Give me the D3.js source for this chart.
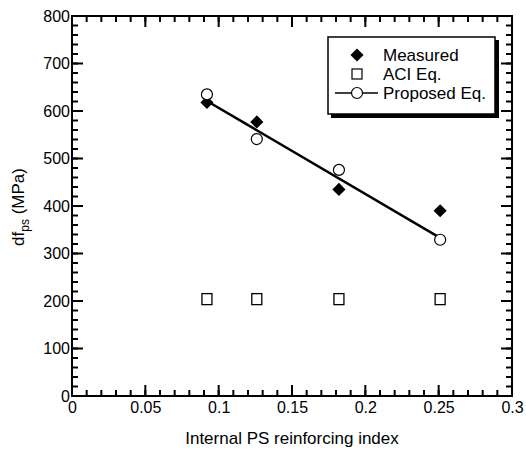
<!DOCTYPE html>
<html>
<head>
<meta charset="utf-8">
<script src="https://cdn.jsdelivr.net/npm/d3@7"></script>
<style>
  html, body { margin: 0; padding: 0; background: #fff; }
  svg { display: block; font-family: "Liberation Sans", Arial, sans-serif; }
</style>
</head>
<body>
<div id="chart"></div>
<script>
// daten
const indexValues = [0.092, 0.126, 0.182, 0.251];
const measured = [618, 577, 435, 390];
const aciEq = [205, 205, 205, 205];
const proposed = [635, 541, 476, 329];
// durchgehende linie (proposed eq.)
const lineX = [0.092, 0.251];
const lineY = [621, 333];

const xTicks = [0, 0.05, 0.1, 0.15, 0.2, 0.25, 0.3];
const yTicks = [0, 100, 200, 300, 400, 500, 600, 700, 800];
const legendItems = ['Measured', 'ACI Eq.', 'Proposed Eq.'];

const W = 526, H = 450;
const plot = { left: 72, right: 512, top: 16, bottom: 396 };

const svg = d3.select('#chart').append('svg')
  .attr('width', W).attr('height', H);

const x = d3.scaleLinear().domain([0, 0.3]).range([plot.left, plot.right]);
const y = d3.scaleLinear().domain([0, 800]).range([plot.bottom, plot.top]);

const minorX = d3.range(0, 31).map(i => i / 100);
const minorY = d3.range(0, 41).map(i => i * 20);

// ---- Tick-Striche nach innen, auf allen vier Seiten ----
const gTicks = svg.append('g').attr('class', 'ticks')
  .attr('stroke', '#000').attr('stroke-width', 2);

function xTickMarks(vals, len) {
  [[plot.bottom, -1], [plot.top, 1]].forEach(([y0, dir]) => {
    gTicks.append('g').selectAll('line').data(vals).join('line')
      .attr('x1', d => x(d)).attr('x2', d => x(d))
      .attr('y1', y0).attr('y2', y0 + dir * len);
  });
}
function yTickMarks(vals, len) {
  [[plot.left, 1], [plot.right, -1]].forEach(([x0, dir]) => {
    gTicks.append('g').selectAll('line').data(vals).join('line')
      .attr('y1', d => y(d)).attr('y2', d => y(d))
      .attr('x1', x0).attr('x2', x0 + dir * len);
  });
}
xTickMarks(minorX, 6);
xTickMarks(xTicks, 11);
yTickMarks(minorY, 6);
yTickMarks(yTicks, 11);

// ---- Beschriftungen ----
svg.append('g')
  .attr('transform', `translate(0,${plot.bottom})`)
  .call(d3.axisBottom(x).tickValues(xTicks).tickSize(0).tickPadding(6).tickFormat(d => d3.format('~g')(d)))
  .call(g => g.select('.domain').remove())
  .call(g => g.selectAll('text').attr('font-size', 16).attr('fill', '#000').attr('font-family', 'Liberation Sans, Arial, sans-serif'));

svg.append('g')
  .attr('transform', `translate(${plot.left},0)`)
  .call(d3.axisLeft(y).tickValues(yTicks).tickSize(0).tickPadding(2))
  .call(g => g.select('.domain').remove())
  .call(g => g.selectAll('text').attr('font-size', 16).attr('fill', '#000').attr('font-family', 'Liberation Sans, Arial, sans-serif'));

// Rahmen
svg.append('rect')
  .attr('x', plot.left).attr('y', plot.top)
  .attr('width', plot.right - plot.left).attr('height', plot.bottom - plot.top)
  .attr('fill', 'none').attr('stroke', '#000').attr('stroke-width', 2);

// ---- Daten ----
const gData = svg.append('g').attr('class', 'data');

gData.append('path')
  .datum(lineX.map((d, i) => [d, lineY[i]]))
  .attr('fill', 'none').attr('stroke', '#000').attr('stroke-width', 2.5)
  .attr('d', d3.line().x(d => x(d[0])).y(d => y(d[1])));

const diamond = d3.symbol().type(d3.symbolDiamond2).size(110);

gData.selectAll('path.measured')
  .data(indexValues.map((d, i) => [d, measured[i]]))
  .join('path')
  .attr('class', 'measured')
  .attr('transform', d => `translate(${x(d[0])},${y(d[1])})`)
  .attr('d', diamond)
  .attr('fill', '#000');

gData.selectAll('rect.aci')
  .data(indexValues.map((d, i) => [d, aciEq[i]]))
  .join('rect')
  .attr('class', 'aci')
  .attr('x', d => x(d[0]) - 5).attr('y', d => y(d[1]) - 5)
  .attr('width', 10).attr('height', 11)
  .attr('fill', '#fff').attr('stroke', '#000').attr('stroke-width', 1.3);

gData.selectAll('circle.proposed')
  .data(indexValues.map((d, i) => [d, proposed[i]]))
  .join('circle')
  .attr('class', 'proposed')
  .attr('cx', d => x(d[0])).attr('cy', d => y(d[1]))
  .attr('r', 5.5)
  .attr('fill', '#fff').attr('stroke', '#000').attr('stroke-width', 1.2);

// ---- Legende ----
const lg = svg.append('g').attr('transform', 'translate(328,37)');
lg.append('rect').attr('x', 3).attr('y', 3).attr('width', 168).attr('height', 78).attr('fill', '#000');
lg.append('rect').attr('x', 0).attr('y', 0).attr('width', 167).attr('height', 77)
  .attr('fill', '#fff').attr('stroke', '#000').attr('stroke-width', 1.5);

const rowY = [18, 37, 56];
legendItems.forEach((name, i) => {
  const cy = rowY[i];
  if (i === 0) {
    lg.append('path').attr('transform', `translate(29,${cy})`).attr('d', diamond).attr('fill', '#000');
  } else if (i === 1) {
    lg.append('rect').attr('x', 24).attr('y', cy - 5).attr('width', 10).attr('height', 10)
      .attr('fill', '#fff').attr('stroke', '#000').attr('stroke-width', 1.2);
  } else {
    lg.append('line').attr('x1', 7).attr('x2', 50).attr('y1', cy).attr('y2', cy)
      .attr('stroke', '#000').attr('stroke-width', 1.5);
    lg.append('circle').attr('cx', 29).attr('cy', cy).attr('r', 5.5)
      .attr('fill', '#fff').attr('stroke', '#000').attr('stroke-width', 1.2);
  }
  lg.append('text').attr('x', 55).attr('y', cy).attr('dy', '0.36em')
    .attr('font-size', 17).attr('fill', '#000').text(name);
});

// ---- Achsentitel ----
svg.append('text')
  .attr('x', (plot.left + plot.right) / 2).attr('y', 444)
  .attr('text-anchor', 'middle').attr('font-size', 17).attr('fill', '#000')
  .text('Internal PS reinforcing index');

const yt = svg.append('text')
  .attr('transform', `translate(24,207) rotate(-90)`)
  .attr('text-anchor', 'middle').attr('font-size', 17).attr('fill', '#000');
yt.append('tspan').text('df');
yt.append('tspan').attr('dy', 5).attr('font-size', 12).text('ps');
yt.append('tspan').attr('dy', -5).text(' (MPa)');
</script>
</body>
</html>
